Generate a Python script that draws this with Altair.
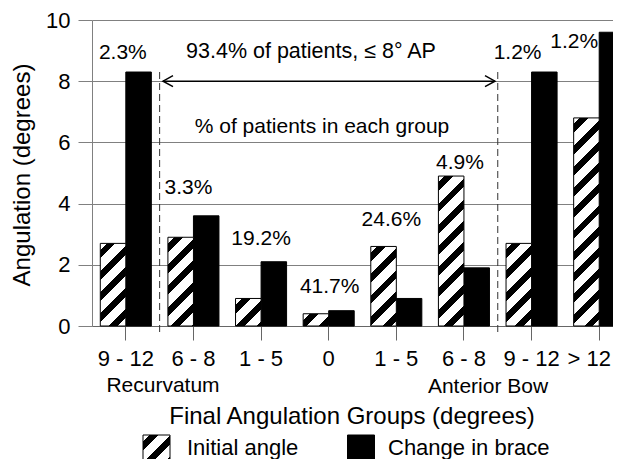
import math
import altair as alt
import pandas as pd

# ---------------- data ----------------
groups = ["9 - 12", "6 - 8", "1 - 5", "0", "1 - 5", "6 - 8", "9 - 12", "> 12"]
series = ["Initial angle", "Change in brace"]
initial_angle = [2.7, 2.9, 0.9, 0.4, 2.6, 4.9, 2.7, 6.8]
change_in_brace = [8.3, 3.6, 2.1, 0.5, 0.9, 1.9, 8.3, 9.6]
pct_labels = ["2.3%", "3.3%", "19.2%", "41.7%", "24.6%", "4.9%", "1.2%", "1.2%"]
pct_label_y = [8.92, 4.5, 2.84, 1.27, 3.46, 5.33, 8.92, 9.28]
pct_label_dx = [-3, -5, 0, 1, -5, -4, -14, -25]
y_ticks = [0, 2, 4, 6, 8, 10]

keys = [f"{i}|{g}" for i, g in enumerate(groups)]
rows = []
for i, k in enumerate(keys):
    rows.append({"key": k, "idx": i, "series": series[0], "value": initial_angle[i]})
    rows.append({"key": k, "idx": i, "series": series[1], "value": change_in_brace[i]})
df = pd.DataFrame(rows)

# ---------------- layout ----------------
# The page must not overflow the 621x467 window, so the SVG is 605 x 451 and the
# x range runs past the visible plot width (the original figure is cropped on the right).
FONT = "Liberation Sans"
W, H = 521, 306
RANGE_W = 541
STEP = RANGE_W / 8
PAD_IN = 0.245
BAR_W = STEP * (1 - PAD_IN) / 2
PX_PER_UNIT = H / 10


def hatch(w, h, period=15.0, frac=0.42):
    s = (w + h) / (w * w + h * h)
    n = (w + h) / math.sqrt(2) / period
    stops = [{"offset": 0, "color": "white"}]
    k = 0
    while True:
        a = (k + 0.3) / n
        b = (k + 0.3 + frac) / n
        if a >= 1:
            break
        b = min(b, 1)
        stops += [{"offset": a, "color": "white"}, {"offset": a, "color": "black"},
                  {"offset": b, "color": "black"}, {"offset": b, "color": "white"}]
        k += 1
    stops.append({"offset": 1, "color": "white"})
    return {"gradient": "linear", "x1": 0, "y1": 0, "x2": w * s, "y2": h * s, "stops": stops}


xscale = alt.Scale(domain=keys, range=[0, RANGE_W],
                   paddingInner=PAD_IN, paddingOuter=PAD_IN / 2)
xaxis = alt.Axis(title=None, labelExpr="split(datum.value, '|')[1]", labelFont=FONT,
                 labelFontSize=22, labelColor="black", labelAngle=0, labelPadding=8,
                 tickSize=14, tickColor="#666", domainColor="#666", grid=False,
                 labelOverlap=False,
                 labelOffset={"condition": {"test": f"datum.value == '{keys[-1]}'",
                                            "value": -10}, "value": 0})
yscale = alt.Scale(domain=[0, 10], nice=False)
yaxis = alt.Axis(title=None, values=y_ticks, labelFont=FONT, labelFontSize=22,
                 labelColor="black", labelPadding=8, tickSize=14, tickColor="#808080",
                 domainColor="#808080", grid=True, gridColor="#808080", gridWidth=1)

X = alt.X("key:N", scale=xscale, axis=xaxis)
XO = alt.XOffset("series:N", scale=alt.Scale(domain=series, paddingInner=0))
Y = alt.Y("value:Q", scale=yscale, axis=yaxis)

layers = []

# black bars
layers.append(
    alt.Chart(df).transform_filter(alt.datum.series == series[1])
    .mark_bar(fill="black", stroke="black", strokeWidth=1)
    .encode(x=X, xOffset=XO, y=Y)
)

# hatched bars (one gradient per bar)
for i in range(len(groups)):
    h = initial_angle[i] * PX_PER_UNIT
    layers.append(
        alt.Chart(df).transform_filter(
            f"datum.series == '{series[0]}' && datum.idx == {i}")
        .mark_bar(fill=hatch(BAR_W, h), stroke="black", strokeWidth=1)
        .encode(x=X, xOffset=XO, y=Y)
    )

# percent labels
for i in range(len(groups)):
    lab = pd.DataFrame({"key": [keys[i]], "label": [pct_labels[i]], "value": [pct_label_y[i]]})
    layers.append(
        alt.Chart(lab).mark_text(dx=pct_label_dx[i], font=FONT, fontSize=21,
                                 baseline="middle", align="center", color="black")
        .encode(x=X, y=Y, text="label:N")
    )

one = pd.DataFrame({"a": [0]})

# dashed dividers
for xpos in [STEP * 1, STEP * 6]:
    layers.append(
        alt.Chart(one).mark_rule(color="#333", strokeWidth=1, strokeDash=[7, 4])
        .encode(x=alt.value(xpos), y=alt.value(52), y2=alt.value(313))
    )

# double arrow at 8 degrees
ARROW_L, ARROW_R = 71, 403
layers.append(
    alt.Chart(one).mark_rule(color="black", strokeWidth=1.5)
    .encode(x=alt.value(ARROW_L), x2=alt.value(ARROW_R), y=alt.datum(8))
)
layers.append(
    alt.Chart(one).mark_point(shape="M2,-1.1L0,0L2,1.1", size=100, filled=False,
                              stroke="black", strokeWidth=1.5, opacity=1)
    .encode(x=alt.value(ARROW_L), y=alt.datum(8))
)
layers.append(
    alt.Chart(one).mark_point(shape="M-2,-1.1L0,0L-2,1.1", size=100, filled=False,
                              stroke="black", strokeWidth=1.5, opacity=1)
    .encode(x=alt.value(ARROW_R), y=alt.datum(8))
)


def txt(s, x, y, size=22, align="center", angle=0):
    kw = dict(text=s, font=FONT, fontSize=size, align=align, baseline="middle", color="black")
    if angle:
        kw["angle"] = angle
    return alt.Chart(one).mark_text(**kw).encode(x=alt.value(x), y=alt.value(y))


layers.append(txt("93.4% of patients, \u2264 8\u00b0 AP", 219, 32, 21.5))
layers.append(txt("% of patients in each group", 230, 107, 21))
layers.append(txt("Angulation (degrees)", -69, 155, 24, angle=270))
layers.append(txt("Final Angulation Groups (degrees)", 260, 397, 24))
layers.append(txt("Recurvatum", 71, 366, 21))
layers.append(txt("Anterior Bow", 396, 367, 21))

# legend
LEG_Y = 428
layers.append(
    alt.Chart(one).mark_square(size=729, fill=hatch(27, 27), stroke="black",
                               strokeWidth=1, opacity=1)
    .encode(x=alt.value(64.5), y=alt.value(LEG_Y + 0.5))
)
layers.append(
    alt.Chart(one).mark_square(size=729, fill="black", stroke="black",
                               strokeWidth=1, opacity=1)
    .encode(x=alt.value(269), y=alt.value(LEG_Y + 0.5))
)
layers.append(txt("Initial angle", 95, LEG_Y, 22, align="left"))
layers.append(txt("Change in brace", 296, LEG_Y, 22, align="left"))

chart = alt.layer(*layers).properties(
    width=W, height=H,
    autosize=alt.AutoSizeParams(type="none"),
    padding={"left": 84, "top": 12, "right": 0, "bottom": 133},
    background="white",
).configure_view(stroke=None)

chart.save("out.html", embed_options={"renderer": "svg", "actions": False})
